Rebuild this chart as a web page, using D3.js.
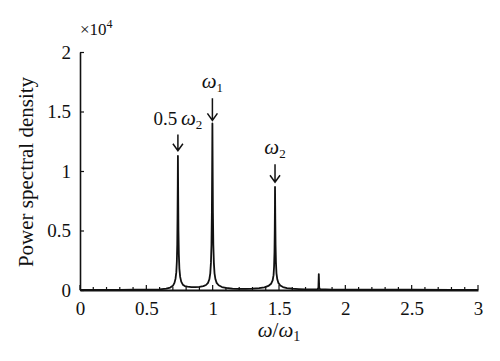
<!DOCTYPE html>
<html>
<head>
<meta charset="utf-8">
<script src="https://cdn.jsdelivr.net/npm/d3@7"></script>
<style>
  body { margin: 0; background: #fff; }
  svg { display: block; }
  text { font-family: "Liberation Serif", "Times New Roman", serif; fill: #111; }
</style>
</head>
<body>
<div id="chart"></div>
<script>
// spectrum samples: frequency ratio w/w1 and PSD
var freq = [0, 0.1, 0.2, 0.3, 0.4, 0.5, 0.55, 0.6, 0.65, 0.68, 0.7, 0.712, 0.72, 0.726, 0.73, 0.733,
  0.735, 0.737, 0.738, 0.74, 0.742, 0.745, 0.749, 0.755, 0.763, 0.775, 0.79, 0.81, 0.84, 0.87,
  0.9, 0.93, 0.95, 0.965, 0.975, 0.982, 0.987, 0.991, 0.994, 0.996, 0.998, 1.0, 1.002, 1.005,
  1.009, 1.014, 1.021, 1.03, 1.045, 1.07, 1.1, 1.15, 1.2, 1.25, 1.3, 1.35, 1.39, 1.42, 1.44,
  1.452, 1.459, 1.463, 1.466, 1.468, 1.4695, 1.47, 1.472, 1.474, 1.477, 1.481, 1.487, 1.495,
  1.51, 1.53, 1.56, 1.6, 1.65, 1.7, 1.75, 1.79, 1.797, 1.8, 1.803, 1.81, 1.85, 1.9, 2.0, 2.2,
  2.5, 2.8, 3.0];
var psd = [10, 12, 14, 16, 20, 25, 30, 60, 110, 200, 350, 600, 950, 1500, 2400, 3800,
  6000, 9000, 11260, 8000, 5000, 3000, 1800, 1100, 700, 450, 330, 280, 250, 245,
  260, 320, 420, 600, 900, 1400, 2300, 3800, 6500, 10000, 14000, 10000, 6500, 3800,
  2300, 1400, 900, 600, 400, 250, 170, 120, 100, 90, 110, 150, 220, 340, 520,
  800, 1250, 2000, 3200, 5000, 7200, 8660, 6000, 3800, 2300, 1400, 900, 600,
  380, 250, 160, 110, 80, 60, 50, 50, 200, 1340, 200, 50, 40, 35, 30, 25,
  20, 18, 15];

var xTicks = [0, 0.5, 1, 1.5, 2, 2.5, 3];
var yTicks = [0, 5000, 10000, 15000, 20000];

// peak annotations
var annLabels = ["0.5", "", ""];
var annSub = ["2", "1", "2"];
var annFreq = [0.738, 0.998, 1.47];
var annTip = [11700, 14250, 9050];
var annTextVal = [13900, 16950, 11400];

var width = 500, height = 361;
var margin = {top: 52, right: 22, bottom: 71, left: 80};

var svg = d3.select("#chart").append("svg")
  .attr("width", width)
  .attr("height", height);

var x = d3.scaleLinear()
  .domain([0, 3])
  .range([margin.left, width - margin.right]);

var y = d3.scaleLinear()
  .domain([0, 20000])
  .range([height - margin.bottom, margin.top]);

// minor ticks on x every 0.1
var minor = d3.range(0, 31).map(function(i) { return i / 10; });
svg.append("g").selectAll("line").data(minor).enter()
  .append("line")
  .attr("x1", function(d) { return x(d); })
  .attr("x2", function(d) { return x(d); })
  .attr("y1", y(0))
  .attr("y2", function(d, i) { return i % 5 == 0 ? y(0) - 5 : y(0) - 3; })
  .attr("stroke", "#111")
  .attr("stroke-width", 1.2);

// x axis
var xAxis = svg.append("g")
  .attr("transform", "translate(0," + y(0) + ")")
  .call(d3.axisBottom(x).tickValues(xTicks).tickSize(0).tickPadding(12)
    .tickFormat(function(d) { return d; }));
xAxis.select(".domain").attr("stroke", "#111").attr("stroke-width", 2);
xAxis.selectAll("text").style("font-family", "Liberation Serif").style("font-size", "19px").attr("fill", "#111");

// y axis with inward ticks
var yAxis = svg.append("g")
  .attr("transform", "translate(" + x(0) + ",0)")
  .call(d3.axisLeft(y).tickValues(yTicks).tickSizeInner(-4).tickSizeOuter(0).tickPadding(9)
    .tickFormat(function(d) { return d / 10000; }));
yAxis.select(".domain").attr("stroke", "#111").attr("stroke-width", 1.6);
yAxis.selectAll(".tick line").attr("stroke", "#111").attr("stroke-width", 1.2);
yAxis.selectAll("text").style("font-family", "Liberation Serif").style("font-size", "19px").attr("fill", "#111");

// spectrum line
var line = d3.line()
  .x(function(d, i) { return x(freq[i]); })
  .y(function(d) { return y(d); });

svg.append("path")
  .datum(psd)
  .attr("d", line)
  .attr("fill", "none")
  .attr("stroke", "#111")
  .attr("stroke-width", 1.8)
  .attr("stroke-linejoin", "round");

// x10^4 multiplier
var mult = svg.append("text")
  .attr("x", x(0))
  .attr("y", 35)
  .style("font-size", "17px");
mult.append("tspan").text("\u00d710");
mult.append("tspan").attr("dy", -7).style("font-size", "12px").text("4");

// annotations: label, then arrow down to the peak
var ann = svg.append("g").selectAll("g").data(annFreq).enter().append("g");

ann.append("text")
  .attr("x", function(d) { return x(d); })
  .attr("y", function(d, i) { return y(annTextVal[i]); })
  .attr("text-anchor", "middle")
  .style("font-size", "19px")
  .each(function(d, i) {
    var t = d3.select(this);
    if (annLabels[i]) t.append("tspan").text(annLabels[i] + "\u2009");
    t.append("tspan").style("font-style", "italic").style("font-size", "21px").text("\u03c9");
    t.append("tspan").attr("dy", 4).style("font-size", "13px").text(annSub[i]);
  });

ann.append("path")
  .attr("d", function(d, i) {
    var cx = x(d), tip = y(annTip[i]), top = y(annTextVal[i]) + 10;
    return "M" + cx + "," + top + "L" + cx + "," + tip +
      "M" + (cx - 5) + "," + (tip - 7) + "L" + cx + "," + tip + "L" + (cx + 5) + "," + (tip - 7);
  })
  .attr("fill", "none")
  .attr("stroke", "#111")
  .attr("stroke-width", 1.5);

// axis titles
svg.append("text")
  .attr("transform", "translate(33," + ((margin.top + height - margin.bottom) / 2 + 1) + ") rotate(-90)")
  .attr("text-anchor", "middle")
  .style("font-size", "21px")
  .text("Power spectral density");

var xt = svg.append("text")
  .attr("x", (x(0) + x(3)) / 2)
  .attr("y", 337)
  .attr("text-anchor", "middle")
  .style("font-size", "21px");
xt.append("tspan").style("font-style", "italic").text("\u03c9");
xt.append("tspan").text("/");
xt.append("tspan").style("font-style", "italic").text("\u03c9");
xt.append("tspan").attr("dy", 4).style("font-size", "14px").text("1");
</script>
</body>
</html>
